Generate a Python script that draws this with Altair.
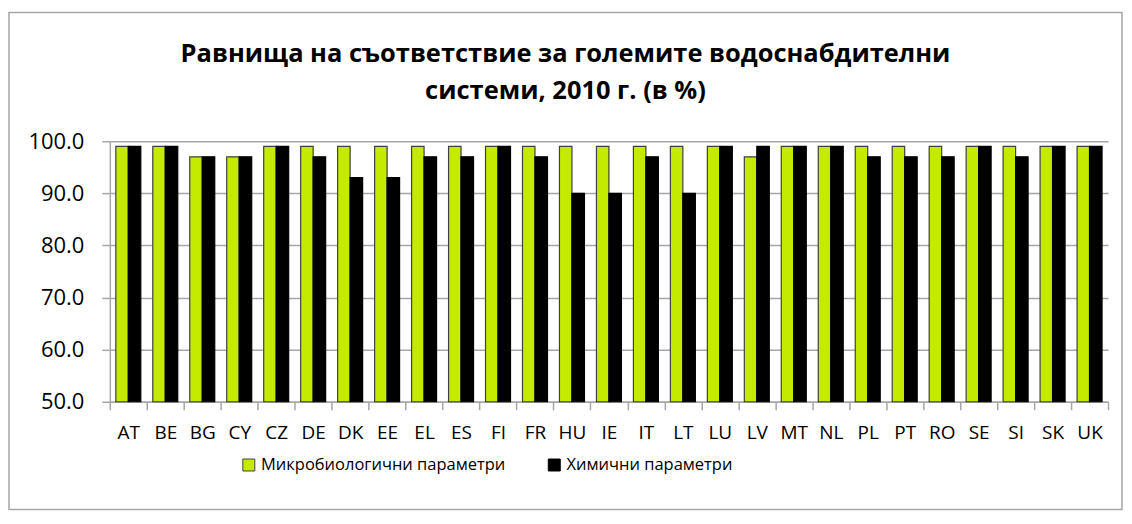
import altair as alt
import pandas as pd

countries = ["AT", "BE", "BG", "CY", "CZ", "DE", "DK", "EE", "EL", "ES", "FI", "FR", "HU", "IE",
             "IT", "LT", "LU", "LV", "MT", "NL", "PL", "PT", "RO", "SE", "SI", "SK", "UK"]
micro = [99, 99, 97, 97, 99, 99, 99, 99, 99, 99, 99, 99, 99, 99,
         99, 99, 99, 97, 99, 99, 99, 99, 99, 99, 99, 99, 99]
chem = [99, 99, 97, 97, 99, 97, 93, 93, 97, 97, 99, 97, 90, 90,
        97, 90, 99, 99, 99, 99, 97, 97, 97, 99, 97, 99, 99]
series = ["Микробиологични параметри", "Химични параметри"]
title_lines = ["Равнища на съответствие за големите водоснабдителни", "системи, 2010 г. (в %)"]

rows = []
for i, c in enumerate(countries):
    rows.append({"country": c, "series": series[0], "value": micro[i]})
    rows.append({"country": c, "series": series[1], "value": chem[i]})
df = pd.DataFrame(rows)

FONT = "Open Sans"
GRID = "#A6A6A6"

bars = alt.Chart(df).mark_bar(strokeWidth=1.2).encode(
    x=alt.X("country:N", sort=countries,
            scale=alt.Scale(paddingInner=0, paddingOuter=0),
            axis=alt.Axis(title=None, labelAngle=0, tickBand="extent", tickSize=8,
                          tickColor=GRID, tickWidth=1.5, domainColor=GRID, domainWidth=1.5,
                          labelFontSize=19, labelFont=FONT, labelColor="#000000",
                          labelPadding=14, grid=False)),
    xOffset=alt.XOffset("series:N", sort=series,
                        scale=alt.Scale(paddingOuter=0.48, paddingInner=0)),
    y=alt.Y("value:Q",
            scale=alt.Scale(domain=[50, 100], nice=False, zero=False),
            axis=alt.Axis(title=None, values=[50, 60, 70, 80, 90, 100], format=".1f",
                          grid=True, gridColor=GRID, gridWidth=1.5,
                          tickSize=8, tickColor=GRID, tickWidth=1.5,
                          domainColor=GRID, domainWidth=1.5,
                          labelFontSize=22, labelFont=FONT, labelColor="#000000",
                          labelPadding=18)),
    y2=alt.datum(50),
    color=alt.Color("series:N",
                    scale=alt.Scale(domain=series, range=["#C4EA00", "#000000"]),
                    legend=alt.Legend(title=None, orient="none", legendX=131, legendY=316,
                                      direction="horizontal", symbolType="square",
                                      symbolSize=144, symbolStrokeColor="#404040",
                                      symbolStrokeWidth=1, labelFontSize=16.5, labelFont=FONT,
                                      labelColor="#000000", labelOffset=4, columnPadding=40,
                                      labelLimit=500)),
    stroke=alt.Stroke("series:N",
                      scale=alt.Scale(domain=series, range=["#404040", "#000000"]),
                      legend=None),
)

frame = alt.Chart(pd.DataFrame({"a": [0]})).mark_rect(
    fillOpacity=0, stroke=GRID, strokeWidth=1.5
).encode(
    x=alt.value(9 - 110), x2=alt.value(1124 - 110),
    y=alt.value(12 - 141), y2=alt.value(510 - 141)
)

chart = alt.layer(frame, bars).properties(
    width=1000, height=261,
    autosize=alt.AutoSizeParams(type="none"),
    padding={"left": 102, "top": 133, "right": 16, "bottom": 112},
    title=alt.TitleParams(title_lines, font=FONT, fontSize=25.5, fontWeight="bold",
                          color="#000000", anchor="middle", frame="bounds",
                          lineHeight=37, offset=-93),
).configure_view(stroke=None)

chart.save("out.html", embed_options={"renderer": "svg", "actions": False})
